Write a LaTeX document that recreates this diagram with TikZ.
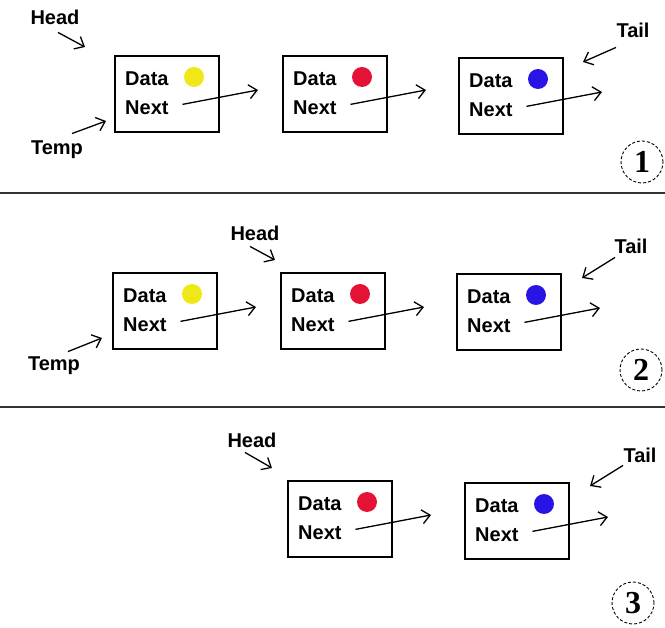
\documentclass[tikz,border=0pt]{standalone}
\usepackage{fontspec}
\setmainfont{Liberation Sans}
\newfontfamily\numfont{Liberation Serif}
\usetikzlibrary{arrows.meta}
\definecolor{dotyellow}{RGB}{238,232,24}
\definecolor{dotred}{RGB}{228,18,52}
\definecolor{dotblue}{RGB}{40,20,228}
\definecolor{sepgray}{RGB}{50,50,50}
\tikzset{
  boxst/.style={draw, line width=1.5pt, rectangle, minimum width=104pt, minimum height=76pt, inner sep=0pt},
  lbl/.style={inner sep=0pt, text height=14.5pt, text depth=0pt, font=\fontsize{20}{24}\selectfont\bfseries},
  dotst/.style={circle, minimum size=20pt, inner sep=0pt, draw=none},
  ptr/.style={line width=1.3pt, -{Straight Barb[length=8pt,width=14pt,line width=1.3pt]}},
  numc/.style={circle, draw, densely dashed, line width=0.9pt, minimum size=42pt, inner sep=0pt, font=\numfont\bfseries\fontsize{32}{32}\selectfont},
  sepline/.style={line width=1.6pt, draw=sepgray}
}
\newcommand\lnbox[4]{%
  \node[boxst] (#1) at (#2+52,#3+38) {};
  \node[lbl,anchor=west] (#1d) at (#2+10,#3+22) {Data};
  \node[lbl,anchor=west] (#1n) at (#2+10,#3+51) {Next};
  \node[dotst,fill=#4] (#1c) at (#2+79,#3+21) {};
  \coordinate (#1e) at (#2+143,#3+34);
  \draw[ptr, shorten <=14pt] (#1n.east) -- (#1e);
}
\begin{document}
\begin{tikzpicture}[x=1pt,y=-1pt]
\useasboundingbox (0,0) rectangle (665,628);
\fill[white] (0,0) rectangle (665,628);
% separators
\draw[sepline] (0,193) -- (665,193);
\draw[sepline] (0,407) -- (665,407);
% ---------- panel 1 ----------
\lnbox{a1}{115}{56}{dotyellow}
\lnbox{a2}{283}{56}{dotred}
\lnbox{a3}{459}{58}{dotblue}
\node[lbl] (head1) at (55,17) {Head};
\coordinate (head1e) at (85,47);
\draw[ptr] ([shift={(3,8)}]head1.south) -- (head1e);
\node[lbl] (temp1) at (57,147) {Temp};
\coordinate (temp1e) at (106,121);
\draw[ptr] ([shift={(15,-6)}]temp1.north) -- (temp1e);
\node[lbl] (tail1) at (633,30) {Tail};
\coordinate (tail1e) at (583,62);
\draw[ptr] ([shift={(-17,10)}]tail1.south) -- (tail1e);
\node[numc] (num1) at (642,162) {1};
% ---------- panel 2 ----------
\lnbox{b1}{113}{273}{dotyellow}
\lnbox{b2}{281}{273}{dotred}
\lnbox{b3}{457}{274}{dotblue}
\node[lbl] (head2) at (255,233) {Head};
\coordinate (head2e) at (275,260);
\draw[ptr] ([shift={(-5,6)}]head2.south) -- (head2e);
\node[lbl] (temp2) at (54,363) {Temp};
\coordinate (temp2e) at (102,338);
\draw[ptr] ([shift={(14,-4)}]temp2.north) -- (temp2e);
\node[lbl] (tail2) at (631,246) {Tail};
\coordinate (tail2e) at (582,278);
\draw[ptr] ([shift={(-16,4)}]tail2.south) -- (tail2e);
\node[numc] (num2) at (641,370) {2};
% ---------- panel 3 ----------
\lnbox{c1}{288}{481}{dotred}
\lnbox{c2}{465}{483}{dotblue}
\node[lbl] (head3) at (252,440) {Head};
\coordinate (head3e) at (272,468);
\draw[ptr] ([shift={(-7,5)}]head3.south) -- (head3e);
\node[lbl] (tail3) at (640,455) {Tail};
\coordinate (tail3e) at (590,486);
\draw[ptr] ([shift={(-17,3)}]tail3.south) -- (tail3e);
\node[numc] (num3) at (633,603) {3};
\end{tikzpicture}
\end{document}
